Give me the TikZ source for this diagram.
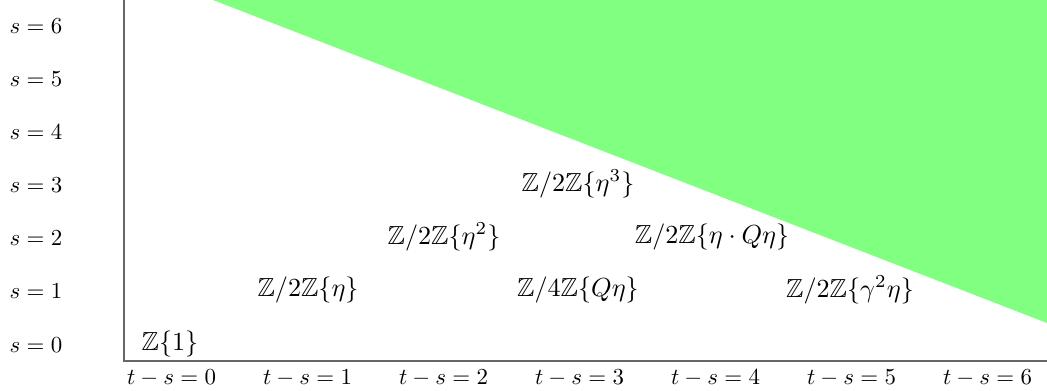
\documentclass[tikz,border=0pt]{standalone}
\usepackage{amssymb}
\begin{document}
\begin{tikzpicture}[x=0.4367pt,y=-0.4367pt,
  axis/.style={draw=black!60,line width=0.45pt},
  lab/.style={inner sep=0pt,anchor=center},
  entry/.style={inner sep=0pt,anchor=center,scale=1.14}]
\useasboundingbox (0,0) rectangle (1047,391);
\fill[green!50] (213,0) -- (1047,0) -- (1047,323) -- cycle;
\coordinate (top) at (124,0);
\coordinate (origin) at (124,361);
\coordinate (right) at (1047,361);
\draw[axis] (top) -- (origin) -- (right);
\foreach \s/\y in {0/345,1/291,2/238,3/185,4/132,5/79,6/26}
  \node[lab] (s\s) at (36,\y) {$s=\s$};
\foreach \k in {0,...,6}
  \node[lab] (t\k) at ({171.5+136*\k},378) {$t-s=\k$};
\node[entry] (e00) at (170,344) {$\mathbb{Z}\{1\}$};
\node[entry] (e11) at (308,290) {$\mathbb{Z}/2\mathbb{Z}\{\eta\}$};
\node[entry] (e22) at (444,237) {$\mathbb{Z}/2\mathbb{Z}\{\eta^2\}$};
\node[entry] (e33) at (578,184) {$\mathbb{Z}/2\mathbb{Z}\{\eta^3\}$};
\node[entry] (e31) at (578,290) {$\mathbb{Z}/4\mathbb{Z}\{Q\eta\}$};
\node[entry] (e42) at (712,237) {$\mathbb{Z}/2\mathbb{Z}\{\eta\cdot Q\eta\}$};
\node[entry] (e51) at (850,290) {$\mathbb{Z}/2\mathbb{Z}\{\gamma^2\eta\}$};
\end{tikzpicture}
\end{document}
